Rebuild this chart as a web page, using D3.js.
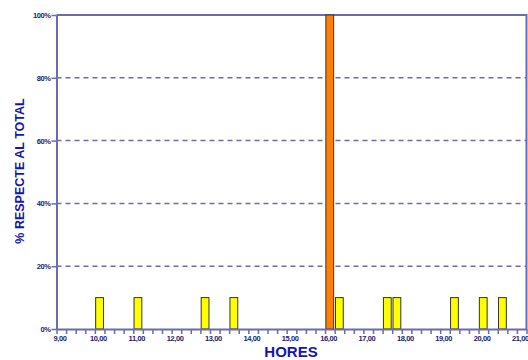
<!DOCTYPE html>
<html>
<head>
<meta charset="utf-8">
<script src="https://cdn.jsdelivr.net/npm/d3@7"></script>
<style>
  body { margin: 0; background: #fff; }
  svg { display: block; font-family: "Liberation Sans", Arial, sans-serif; }
</style>
</head>
<body>
<script>
// quarter-hour bins (start time, hours) and share of total in %
var binStart = [10.00, 11.00, 12.75, 13.50, 16.00, 16.25, 17.50, 17.75, 19.25, 20.00, 20.50];
var percent  = [10, 10, 10, 10, 100, 10, 10, 10, 10, 10, 10];
var isPeak   = [false, false, false, false, true, false, false, false, false, false, false];
var yTicks   = [0, 20, 40, 60, 80, 100];
var hourLabels = [9, 10, 11, 12, 13, 14, 15, 16, 17, 18, 19, 20, 21];

var W = 528, H = 360;
var plot = {left: 56.5, right: 526.5, top: 15, bottom: 329};
var axisColor = "#6b6bb0";
var binW = 0.25;

var data = binStart.map(function(d, i) {
  return {t: d, v: percent[i], peak: isPeak[i]};
});

var svg = d3.select("body").append("svg")
  .attr("width", W)
  .attr("height", H);

/***Scales***/
var x = d3.scaleLinear().domain([9, 21.25]).range([plot.left, plot.right]);
var y = d3.scaleLinear().domain([0, 100]).range([plot.bottom, plot.top]);

/***Grid lines***/
svg.append("g")
  .selectAll("line")
  .data(yTicks.filter(function(d) { return d > 0 && d < 100; }))
  .enter().append("line")
    .attr("x1", plot.left).attr("x2", plot.right)
    .attr("y1", function(d) { return y(d); })
    .attr("y2", function(d) { return y(d); })
    .attr("stroke", axisColor)
    .attr("stroke-width", 1.5)
    .attr("stroke-dasharray", "5,4");

// top and right frame
svg.append("path")
  .attr("d", "M" + plot.left + "," + y(100) + "H" + plot.right + "V" + plot.bottom)
  .attr("fill", "none")
  .attr("stroke", axisColor)
  .attr("stroke-width", 2);

/***Bars***/
svg.append("g")
  .selectAll("rect")
  .data(data)
  .enter().append("rect")
    .attr("x", function(d) { return x(d.t) + 0.8; })
    .attr("y", function(d) { return y(d.v); })
    .attr("width", function(d) { return x(d.t + binW) - x(d.t) - 1.8; })
    .attr("height", function(d) { return y(0) - y(d.v); })
    .attr("fill", function(d) { return d.peak ? "#ff7f00" : "#ffff00"; })
    .attr("stroke", "#333")
    .attr("stroke-width", 1);

/***Axes***/
var xTicks = d3.range(0, 50).map(function(i) { return 9 + i * binW; });
var xAxis = d3.axisBottom(x)
  .tickValues(xTicks)
  .tickSize(5)
  .tickSizeOuter(0)
  .tickFormat(function(d) {
    return hourLabels.indexOf(d) >= 0 ? d.toFixed(2).replace(".", ",") : "";
  });

var gx = svg.append("g")
  .attr("transform", "translate(0," + plot.bottom + ")")
  .call(xAxis);
gx.select(".domain").attr("stroke", axisColor).attr("stroke-width", 2);
gx.selectAll(".tick line").attr("stroke", axisColor).attr("stroke-width", 1.5);
gx.selectAll(".tick text")
  .attr("dx", 3)
  .attr("y", 7)
  .attr("fill", "#1c1c70")
  .style("font-size", "7.5px")
  .style("font-weight", "bold")
  .style("letter-spacing", "-0.4px");

var yAxis = d3.axisLeft(y)
  .tickValues(yTicks)
  .tickSize(5)
  .tickSizeOuter(0)
  .tickFormat(function(d) { return d + "%"; });

var gy = svg.append("g")
  .attr("transform", "translate(" + plot.left + ",0)")
  .call(yAxis);
gy.select(".domain").attr("stroke", axisColor).attr("stroke-width", 2);
gy.selectAll(".tick line").attr("stroke", axisColor).attr("stroke-width", 1.5);
gy.selectAll(".tick text")
  .attr("x", -6)
  .attr("fill", "#1c1c70")
  .style("font-size", "7.5px")
  .style("font-weight", "bold")
  .style("letter-spacing", "-0.4px");

/***Axis titles***/
svg.append("text")
  .attr("transform", "translate(24,171)rotate(-90)")
  .attr("text-anchor", "middle")
  .attr("fill", "#1414b4")
  .style("font-size", "12.5px")
  .style("font-weight", "bold")
  .text("% RESPECTE AL TOTAL");

svg.append("text")
  .attr("x", 291)
  .attr("y", 357)
  .attr("text-anchor", "middle")
  .attr("fill", "#1414b4")
  .style("font-size", "15px")
  .style("font-weight", "bold")
  .text("HORES");
</script>
</body>
</html>
